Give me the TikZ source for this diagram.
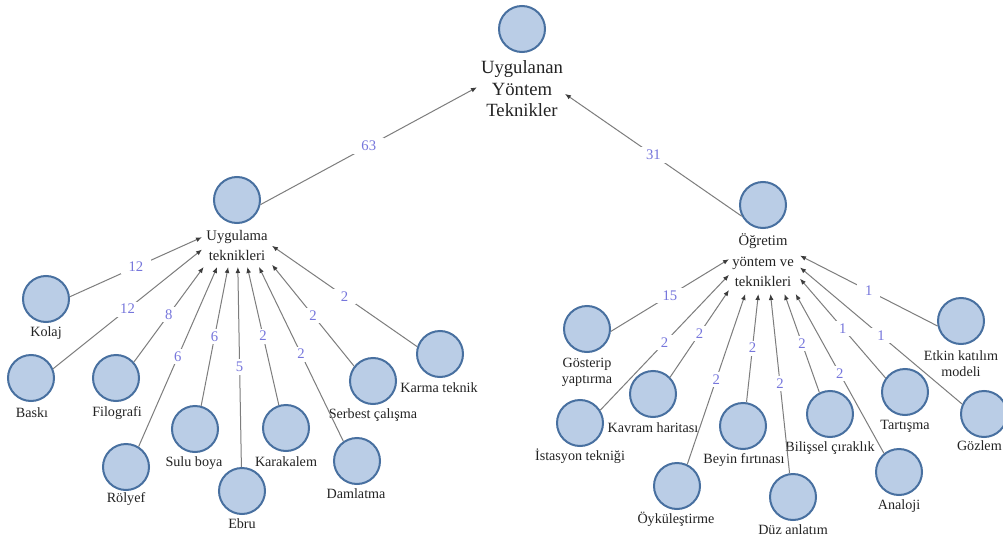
\documentclass[tikz,border=0pt]{standalone}
\usepackage{fontspec}
\setmainfont{Liberation Serif}
\newfontfamily\tms{Liberation Serif}
\usetikzlibrary{intersections,calc,arrows.meta}
\definecolor{cfill}{RGB}{186,205,230}
\definecolor{cdraw}{RGB}{72,112,160}
\definecolor{cline}{RGB}{125,125,125}
\definecolor{ctip}{RGB}{60,60,60}
\definecolor{cnum}{RGB}{118,118,220}
\definecolor{ctext}{RGB}{35,35,35}
\newcommand\leafedge[5]{%
  \path[name path=ln] ($(#1.center)+(0,#2)$) -- (#3.center);
  \path[name path=cc] (#1.center) circle[radius=24];
  \path[name intersections={of=ln and cc,by={#1s}}];
  \draw[conn] (#1s) -- (#3) node[elab,pos=#5]{#4};
}
\begin{document}
\begin{tikzpicture}[x=0.75pt,y=-0.75pt,
  circ/.style={circle,draw=cdraw,fill=cfill,line width=1.5pt,minimum size=34.5pt,inner sep=0pt},
  lbl/.style={font=\tms\fontsize{10.6}{11.8}\selectfont,text=ctext,inner sep=0pt,align=center},
  grp/.style={draw=none,rectangle,inner sep=0pt,outer sep=0pt},
  conn/.style={draw=cline,line width=0.75pt,-{Latex[length=4.5pt,width=3.6pt,color=ctip]}},
  elab/.style={fill=white,text=cnum,font=\tms\fontsize{11}{12}\selectfont,inner xsep=6pt,inner ysep=2pt}]
\fill[white] (0,0) rectangle (1003,542);
\useasboundingbox (0,0) rectangle (1003,542);

% top
\node[circ] (top) at (522,29) {};
\node[lbl,font=\tms\fontsize{14}{16.1}\selectfont] (topt) at (522,89) {Uygulanan\\Yöntem\\Teknikler};
\node[grp,minimum width=66pt,minimum height=87.75pt] (gT) at (521,63.5) {};

% middle left
\node[circ] (uL) at (237,200) {};
\node[lbl,font=\tms\fontsize{11}{15}\selectfont] (uLt) at (237,245) {Uygulama\\teknikleri};
\node[grp,minimum width=52.5pt,minimum height=68.25pt] (gL) at (237,221.5) {};

% middle right
\node[circ] (oR) at (763,205) {};
\node[lbl,font=\tms\fontsize{11}{15.4}\selectfont] (oRt) at (763,260.5) {Öğretim\\yöntem ve\\teknikleri};
\node[grp,minimum width=53.25pt,minimum height=84.75pt] (gR) at (764.5,237.5) {};

\draw[conn] (uL.-11) -- (gT) node[elab,pos=0.5]{63};
\draw[conn] (oR.-152) -- (gT) node[elab,pos=0.5]{31};

% left leaves
\node[circ] (kolaj) at (46,299) {};   \node[lbl] (kolajt) at (46,333) {Kolaj};
\node[circ] (baski) at (31,378) {};   \node[lbl] (baskit) at (32,413) {Baskı};
\node[circ] (filo) at (116,378) {};   \node[lbl] (filot) at (117,413) {Filografi};
\node[circ] (rolyef) at (126,467) {}; \node[lbl] (rolyeft) at (126,499) {Rölyef};
\node[circ] (sulu) at (195,429) {};   \node[lbl] (sulut) at (194,463) {Sulu boya};
\node[circ] (ebru) at (242,491) {};   \node[lbl] (ebrut) at (242,524) {Ebru};
\node[circ] (kara) at (286,428) {};   \node[lbl] (karat) at (286,462) {Karakalem};
\node[circ] (damla) at (357,461) {};  \node[lbl] (damlat) at (356,494) {Damlatma};
\node[circ] (serb) at (373,381) {};   \node[lbl] (serbt) at (373,415) {Serbest çalışma};
\node[circ] (karma) at (440,354) {};  \node[lbl] (karmat) at (439,388) {Karma teknik};

\leafedge{kolaj}{8.5}{gL}{12}{0.5}
\leafedge{baski}{8.5}{gL}{12}{0.5}
\leafedge{filo}{8.5}{gL}{8}{0.5}
\leafedge{rolyef}{8.5}{gL}{6}{0.5}
\leafedge{sulu}{8.5}{gL}{6}{0.5}
\leafedge{ebru}{8.5}{gL}{5}{0.5}
\leafedge{kara}{8.5}{gL}{2}{0.5}
\leafedge{damla}{8.5}{gL}{2}{0.5}
\leafedge{serb}{8.5}{gL}{2}{0.5}
\leafedge{karma}{8.5}{gL}{2}{0.5}

% right leaves
\node[circ] (gost) at (587,329) {};   \node[lbl] (gostt) at (587,372) {Gösterip\\yaptırma};
\node[circ] (ista) at (580,423) {};   \node[lbl] (istat) at (580,456) {İstasyon tekniği};
\node[circ] (kavr) at (653,394) {};   \node[lbl] (kavrt) at (653,428) {Kavram haritası};
\node[circ] (oyku) at (677,486) {};   \node[lbl] (oykut) at (676,519) {Öyküleştirme};
\node[circ] (beyin) at (743,426) {};  \node[lbl] (beyint) at (744,460) {Beyin fırtınası};
\node[circ] (duz) at (793,497) {};    \node[lbl] (duzt) at (793,530) {Düz anlatım};
\node[circ] (bilis) at (830,414) {};  \node[lbl] (bilist) at (830,448) {Bilişsel çıraklık};
\node[circ] (analo) at (899,472) {};  \node[lbl] (analot) at (899,506) {Analoji};
\node[circ] (tart) at (905,392) {};   \node[lbl] (tartt) at (905,426) {Tartışma};
\node[circ] (etkin) at (961,321) {};  \node[lbl] (etkint) at (961,363.5) {Etkin katılım\\modeli};
\node[circ] (gozlem) at (984,414) {}; \node[lbl,anchor=east] (gozlemt) at (1002,446) {Gözlem};

\leafedge{gost}{17}{gR}{15}{0.5}
\leafedge{ista}{8.5}{gR}{2}{0.5}
\leafedge{kavr}{8.5}{gR}{2}{0.5}
\leafedge{oyku}{8.5}{gR}{2}{0.5}
\leafedge{beyin}{8.5}{gR}{2}{0.5}
\leafedge{duz}{8.5}{gR}{2}{0.5}
\leafedge{bilis}{8.5}{gR}{2}{0.5}
\leafedge{analo}{8.5}{gR}{2}{0.5}
\leafedge{tart}{8.5}{gR}{1}{0.5}
\leafedge{etkin}{17}{gR}{1}{0.5}
\leafedge{gozlem}{8.5}{gR}{1}{0.5}
\end{tikzpicture}
\end{document}
